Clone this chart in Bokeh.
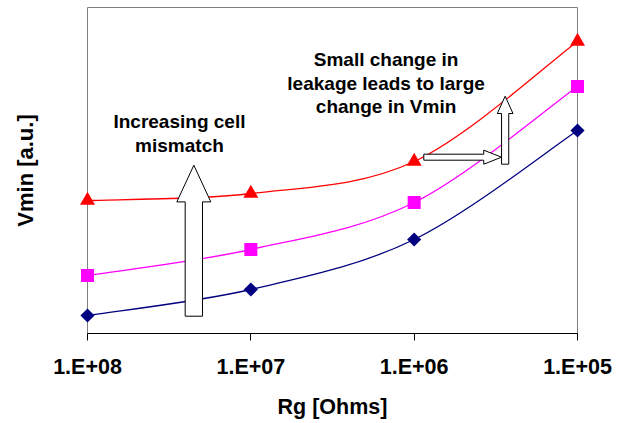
import numpy as np
from bokeh.plotting import figure
from bokeh.models import Range1d, FixedTicker
from bokeh.core.properties import value
from bokeh.embed import file_html
from bokeh.resources import INLINE

# ---- data ----
rg_labels = ["1.E+08", "1.E+07", "1.E+06", "1.E+05"]
x_pos = [0, 1, 2, 3]
vmin_high = [1.33, 1.40, 1.72, 2.92]   # red triangles
vmin_mid = [0.58, 0.84, 1.31, 2.47]    # magenta squares
vmin_low = [0.18, 0.44, 0.94, 2.03]    # navy diamonds

# ---- annotations ----
note_text = ["Increasing cell", "mismatch", "Small change in",
             "leakage leads to large", "change in Vmin"]
note_x = [0.563, 0.563, 1.828, 1.828, 1.828]
note_y = [2.119, 1.879, 2.736, 2.503, 2.270]

FONT = "Liberation Sans"


def smooth_segments(xs, ys, k=1.0 / 6.0):
    n = len(xs)
    d = {key: [] for key in ("x0", "y0", "x1", "y1", "cx0", "cy0", "cx1", "cy1")}
    for i in range(n - 1):
        ip = max(i - 1, 0)
        inn = min(i + 2, n - 1)
        d["x0"].append(xs[i]); d["y0"].append(ys[i])
        d["x1"].append(xs[i + 1]); d["y1"].append(ys[i + 1])
        d["cx0"].append(xs[i] + (xs[i + 1] - xs[ip]) * k)
        d["cy0"].append(ys[i] + (ys[i + 1] - ys[ip]) * k)
        d["cx1"].append(xs[i + 1] - (xs[inn] - xs[i]) * k)
        d["cy1"].append(ys[i + 1] - (ys[inn] - ys[i]) * k)
    return d


def up_arrow(xc, y_tail, y_tip, body_hw, head_hw, head_len):
    yb = y_tip - head_len
    xs = [xc - body_hw, xc - body_hw, xc - head_hw, xc, xc + head_hw, xc + body_hw, xc + body_hw]
    ys = [y_tail, yb, yb, y_tip, yb, yb, y_tail]
    return xs, ys


def right_arrow(yc, x_tail, x_tip, body_hh, head_hh, head_len):
    xb = x_tip - head_len
    xs = [x_tail, xb, xb, x_tip, xb, xb, x_tail]
    ys = [yc - body_hh, yc - body_hh, yc - head_hh, yc, yc + head_hh, yc + body_hh, yc + body_hh]
    return xs, ys


p = figure(width=628, height=421, output_backend="svg", toolbar_location=None,
           x_range=Range1d(0, 3), y_range=Range1d(0, 3.26),
           min_border_left=87, min_border_right=51, min_border_top=7, min_border_bottom=88)
p.background_fill_color = "white"
p.border_fill_color = "white"
p.outline_line_color = "#808080"
p.outline_line_width = 1
p.xgrid.visible = False
p.ygrid.visible = False

# x axis
p.xaxis.ticker = FixedTicker(ticks=x_pos)
p.xaxis.major_label_overrides = {x: lab for x, lab in zip(x_pos, rg_labels)}
p.xaxis.axis_line_color = "black"
p.xaxis.major_tick_line_color = "black"
p.xaxis.major_tick_out = 7
p.xaxis.major_tick_in = 0
p.xaxis.minor_tick_line_color = None
p.xaxis.major_label_text_font = FONT
p.xaxis.major_label_text_font_style = "bold"
p.xaxis.major_label_text_font_size = "21.5px"
p.xaxis.major_label_text_color = "black"
p.xaxis.major_label_standoff = 14
p.xaxis.axis_label = "Rg [Ohms]"
p.xaxis.axis_label_text_font = FONT
p.xaxis.axis_label_text_font_style = "bold"
p.xaxis.axis_label_text_font_size = "21.5px"
p.xaxis.axis_label_text_color = "black"
p.xaxis.axis_label_standoff = 13

# y axis
p.yaxis.ticker = FixedTicker(ticks=[])
p.yaxis.axis_line_color = None
p.yaxis.major_tick_line_color = None
p.yaxis.minor_tick_line_color = None
p.yaxis.major_label_text_font_size = "0px"
p.yaxis.axis_label = "Vmin [a.u.]"
p.yaxis.axis_label_text_font = FONT
p.yaxis.axis_label_text_font_style = "bold"
p.yaxis.axis_label_text_font_size = "22px"
p.yaxis.axis_label_text_color = "black"
p.yaxis.axis_label_standoff = 50

series = [
    (vmin_low, "#000080", "square", 10, np.pi / 4),
    (vmin_mid, "#FF00FF", "square", 13, 0.0),
    (vmin_high, "#FF0000", "triangle", 15, 0.0),
]

for ys, color, marker, size, ang in series:
    seg = smooth_segments(x_pos, ys)
    p.bezier(x0=seg["x0"], y0=seg["y0"], x1=seg["x1"], y1=seg["y1"],
             cx0=seg["cx0"], cy0=seg["cy0"], cx1=seg["cx1"], cy1=seg["cy1"],
             line_color=color, line_width=1.3)

# block arrows
ax1, ay1 = up_arrow(0.651, 0.173, 1.683, 0.053, 0.104, 0.367)
ax2, ay2 = right_arrow(1.763, 2.059, 2.535, 0.030, 0.070, 0.109)
ax3, ay3 = up_arrow(2.557, 1.693, 2.373, 0.022, 0.048, 0.173)
p.patches(xs=[ax1, ax2, ax3], ys=[ay1, ay2, ay3], fill_color="white",
          line_color="black", line_width=1)

for ys, color, marker, size, ang in series:
    p.scatter(x=x_pos, y=ys, marker=marker, size=size, angle=ang,
              fill_color=color, line_color=None, level="overlay")

p.text(x=note_x, y=note_y, text=note_text, text_font=value(FONT),
       text_font_style="bold", text_font_size="19px", text_align="center",
       text_baseline="alphabetic", text_color="black")

open("out.html", "w").write(file_html(p, INLINE))
